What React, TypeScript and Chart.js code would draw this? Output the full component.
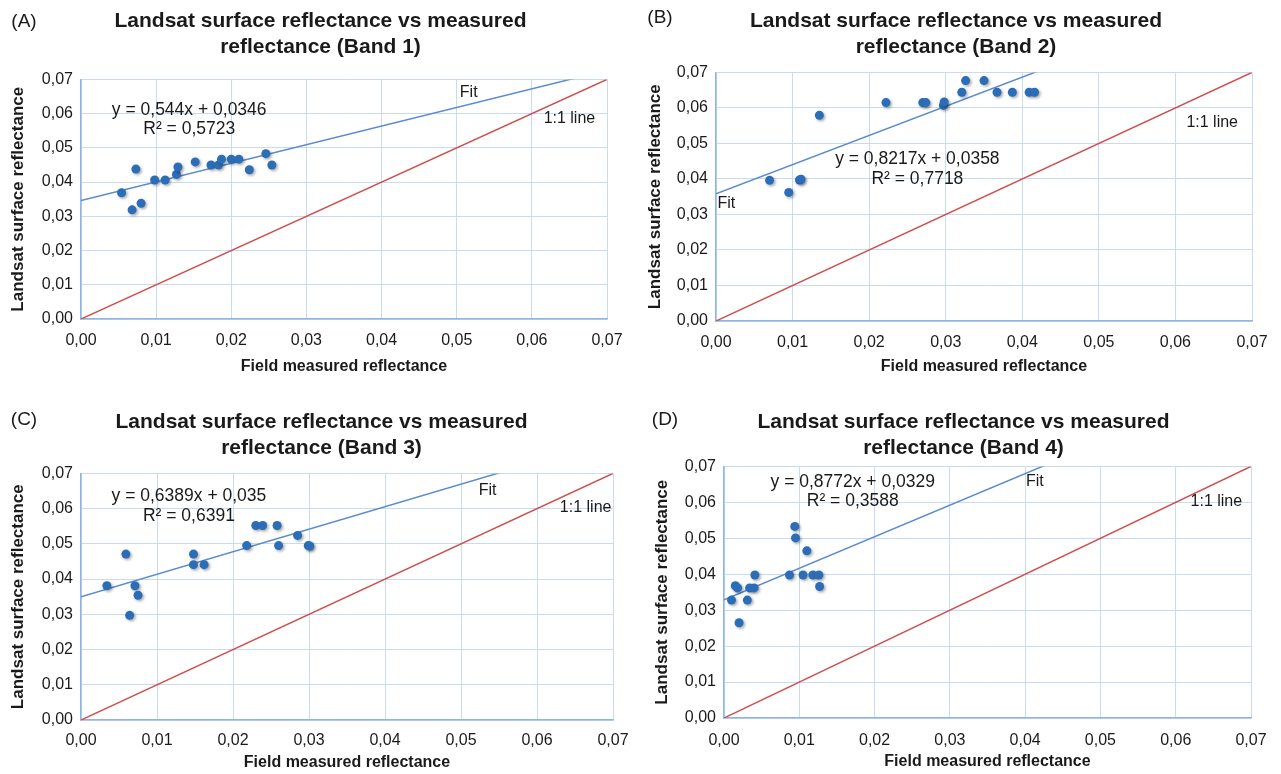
import React, { useEffect, useRef } from "react";
import { Chart, registerables } from "chart.js";

Chart.register(...registerables);

const FONT = '"Liberation Sans", Arial, Helvetica, sans-serif';

// ---------- data ----------
const axisTicks = [0, 0.01, 0.02, 0.03, 0.04, 0.05, 0.06, 0.07];
const axisTickLabels = ["0,00", "0,01", "0,02", "0,03", "0,04", "0,05", "0,06", "0,07"];

const band1X = [0.0054, 0.0068, 0.0073, 0.008, 0.0098, 0.0112, 0.0127, 0.0129, 0.0152, 0.0173, 0.0183, 0.0187, 0.02, 0.021, 0.0224, 0.0246, 0.0254];
const band1Y = [0.0369, 0.0319, 0.0438, 0.0338, 0.0406, 0.0406, 0.0422, 0.0444, 0.0459, 0.045, 0.045, 0.0467, 0.0467, 0.0467, 0.0436, 0.0483, 0.045];
const band1Slope = 0.544;
const band1Intercept = 0.0346;
const band1R2 = 0.5723;

const band2X = [0.007, 0.0095, 0.0109, 0.0111, 0.0135, 0.0222, 0.027, 0.0274, 0.0297, 0.0298, 0.0321, 0.0326, 0.035, 0.0367, 0.0387, 0.0409, 0.0416];
const band2Y = [0.0396, 0.0362, 0.0397, 0.0399, 0.0579, 0.0615, 0.0615, 0.0615, 0.0607, 0.0617, 0.0644, 0.0677, 0.0677, 0.0644, 0.0644, 0.0644, 0.0644];
const band2Slope = 0.8217;
const band2Intercept = 0.0358;
const band2R2 = 0.7718;

const band3X = [0.0034, 0.0059, 0.0064, 0.0071, 0.0075, 0.0148, 0.0148, 0.0162, 0.0218, 0.023, 0.0239, 0.0258, 0.026, 0.0285, 0.0299, 0.0301];
const band3Y = [0.0381, 0.0471, 0.0297, 0.0381, 0.0354, 0.0471, 0.0441, 0.0441, 0.0495, 0.0552, 0.0552, 0.0552, 0.0495, 0.0524, 0.0495, 0.0494];
const band3Slope = 0.6389;
const band3Intercept = 0.035;
const band3R2 = 0.6391;

const band4X = [0.001, 0.0015, 0.0018, 0.002, 0.0031, 0.0034, 0.004, 0.0041, 0.0087, 0.0094, 0.0095, 0.0105, 0.011, 0.0118, 0.0126, 0.0127];
const band4Y = [0.0328, 0.0368, 0.0362, 0.0265, 0.0328, 0.0362, 0.0362, 0.0398, 0.0398, 0.0533, 0.0501, 0.0398, 0.0465, 0.0398, 0.0398, 0.0366];
const band4Slope = 0.8772;
const band4Intercept = 0.0329;
const band4R2 = 0.3588;

const titleLine1 = "Landsat surface reflectance vs measured";
const xAxisTitle = "Field measured reflectance";
const yAxisTitle = "Landsat surface reflectance";
const fitLabel = "Fit";
const oneToOneLabel = "1:1 line";

// ---------- styles ----------
const TEXT = "#1a1a1a";
const POINT = "#2c6db7";
const FIT = "#5b8bd0";
const ONE = "#cf4f4c";
const GRID = "#c9dbf2";
const BORDER = "#90b5e4";

const comma = (v: number) => String(v).replace(".", ",");

type Layout = {
  left: number; top: number; width: number; height: number;
  yAxisWidth: number; xAxisHeight: number; padRight: number;
  titlePadTop: number; titlePadBottom: number; titleShift: number;
  yTitlePad: number; xTitlePad: number; xTickPad: number;
  label: string; labelPos: [number, number];
  eqPos: [number, number]; r2Pos: [number, number];
  fitPos: [number, number]; fitAlign: CanvasTextAlign; onePos: [number, number];
};

type Series = { band: number; xs: number[]; ys: number[]; slope: number; intercept: number; r2: number };

const panels: { series: Series; layout: Layout }[] = [
  {
    series: { band: 1, xs: band1X, ys: band1Y, slope: band1Slope, intercept: band1Intercept, r2: band1R2 },
    layout: {
      left: 0, top: 0, width: 640, height: 385,
      yAxisWidth: 81, xAxisHeight: 66, padRight: 33,
      titlePadTop: 9, titlePadBottom: 20, titleShift: 17,
      yTitlePad: 8, xTitlePad: 9, xTickPad: 12,
      label: "(A)", labelPos: [24, 22],
      eqPos: [0.0144, 0.061], r2Pos: [0.0144, 0.0555],
      fitPos: [0.0516, 0.0662], fitAlign: "center", onePos: [0.065, 0.0585],
    },
  },
  {
    series: { band: 2, xs: band2X, ys: band2Y, slope: band2Slope, intercept: band2Intercept, r2: band2R2 },
    layout: {
      left: 640, top: 0, width: 641, height: 385,
      yAxisWidth: 76, xAxisHeight: 64, padRight: 29,
      titlePadTop: 9, titlePadBottom: 13, titleShift: 10,
      yTitlePad: 5, xTitlePad: 9, xTickPad: 12,
      label: "(B)", labelPos: [20, 18],
      eqPos: [0.0263, 0.0457], r2Pos: [0.0263, 0.04],
      fitPos: [0.0002, 0.0331], fitAlign: "left", onePos: [0.0648, 0.0559],
    },
  },
  {
    series: { band: 3, xs: band3X, ys: band3Y, slope: band3Slope, intercept: band3Intercept, r2: band3R2 },
    layout: {
      left: 0, top: 390, width: 640, height: 384,
      yAxisWidth: 81, xAxisHeight: 54, padRight: 27,
      titlePadTop: 20, titlePadBottom: 13, titleShift: 15,
      yTitlePad: 8, xTitlePad: 1.5, xTickPad: 11,
      label: "(C)", labelPos: [24, 30],
      eqPos: [0.0142, 0.0634], r2Pos: [0.0142, 0.0578],
      fitPos: [0.0535, 0.0651], fitAlign: "center", onePos: [0.0664, 0.0603],
    },
  },
  {
    series: { band: 4, xs: band4X, ys: band4Y, slope: band4Slope, intercept: band4Intercept, r2: band4R2 },
    layout: {
      left: 640, top: 390, width: 641, height: 384,
      yAxisWidth: 84, xAxisHeight: 56, padRight: 30,
      titlePadTop: 20, titlePadBottom: 6, titleShift: 18,
      yTitlePad: 12.5, xTitlePad: 2.5, xTickPad: 13,
      label: "(D)", labelPos: [25, 30],
      eqPos: [0.0171, 0.0656], r2Pos: [0.0171, 0.0602],
      fitPos: [0.0413, 0.0658], fitAlign: "center", onePos: [0.0654, 0.0602],
    },
  },
];

// ---------- plugins ----------
const shadowPlugin = {
  id: "pointShadow",
  beforeDatasetDraw(chart: any, args: any) {
    if (args.index !== 0) return;
    const ctx = chart.ctx;
    ctx.save();
    ctx.shadowColor = "rgba(0,0,0,0.35)";
    ctx.shadowBlur = 3;
    ctx.shadowOffsetX = 1.5;
    ctx.shadowOffsetY = 1.5;
  },
  afterDatasetDraw(chart: any, args: any) {
    if (args.index !== 0) return;
    chart.ctx.restore();
  },
};

// shifts the title box horizontally so the title centres where the original does
const titleShiftPlugin = {
  id: "titleShift",
  afterLayout(chart: any, _args: any, opts: any) {
    const t = chart.titleBlock;
    if (t && opts && opts.dx) {
      t.left += opts.dx;
      t.right += opts.dx;
    }
  },
};

const annotPlugin = {
  id: "annot",
  afterDatasetsDraw(chart: any, _args: any, opts: any) {
    const { ctx, scales } = chart;
    const x = scales.x;
    const y = scales.y;
    ctx.save();
    ctx.fillStyle = TEXT;
    ctx.textBaseline = "middle";
    for (const it of opts.items || []) {
      ctx.font = `${it.weight || "normal"} ${it.size}px ${FONT}`;
      ctx.textAlign = it.align || "center";
      const px = it.data ? x.getPixelForValue(it.pos[0]) : it.pos[0];
      const py = it.data ? y.getPixelForValue(it.pos[1]) : it.pos[1];
      ctx.fillText(it.text, px, py);
    }
    ctx.restore();
  },
};

function buildConfig(series: Series, L: Layout): any {
  const xMin = axisTicks[0];
  const xMax = axisTicks[axisTicks.length - 1];
  const points = series.xs.map((v, i) => ({ x: v, y: series.ys[i] }));
  const fitData = [
    { x: xMin, y: series.slope * xMin + series.intercept },
    { x: xMax, y: series.slope * xMax + series.intercept },
  ];
  const oneData = [
    { x: xMin, y: xMin },
    { x: xMax, y: xMax },
  ];
  const tickFont = { family: FONT, size: 16 };
  const fixTicks = (s: any) => {
    s.ticks = axisTicks.map((v) => ({ value: v }));
  };
  const items = [
    { text: L.label, pos: L.labelPos, size: 19, align: "center", data: false },
    { text: `y = ${comma(series.slope)}x + ${comma(series.intercept)}`, pos: L.eqPos, size: 17.5, data: true },
    { text: `R² = ${comma(series.r2)}`, pos: L.r2Pos, size: 17.5, data: true },
    { text: fitLabel, pos: L.fitPos, size: 16, align: L.fitAlign, data: true },
    { text: oneToOneLabel, pos: L.onePos, size: 16, data: true },
  ];
  return {
    type: "scatter",
    data: {
      datasets: [
        {
          data: points,
          backgroundColor: POINT,
          borderWidth: 0,
          pointRadius: 4.5,
          pointHoverRadius: 4.5,
        },
        {
          data: fitData,
          showLine: true,
          borderColor: FIT,
          borderWidth: 1.5,
          pointRadius: 0,
          fill: false,
        },
        {
          data: oneData,
          showLine: true,
          borderColor: ONE,
          borderWidth: 1.5,
          pointRadius: 0,
          fill: false,
        },
      ],
    },
    options: {
      responsive: false,
      animation: false,
      events: [],
      layout: { padding: { left: 0, top: 0, right: L.padRight, bottom: 0 } },
      plugins: {
        legend: { display: false },
        tooltip: { enabled: false },
        title: {
          display: true,
          text: [titleLine1, `reflectance (Band ${series.band})`],
          color: TEXT,
          font: { family: FONT, size: 21, weight: "bold", lineHeight: 1.2 },
          padding: { top: L.titlePadTop, bottom: L.titlePadBottom },
        },
        titleShift: { dx: L.titleShift },
        annot: { items },
      },
      scales: {
        x: {
          type: "linear",
          min: xMin,
          max: xMax,
          afterBuildTicks: fixTicks,
          afterFit: (s: any) => {
            s.height = L.xAxisHeight;
          },
          ticks: {
            callback: (_v: any, i: number) => axisTickLabels[i],
            font: tickFont,
            color: TEXT,
            padding: L.xTickPad,
            maxRotation: 0,
            autoSkip: false,
          },
          grid: { color: GRID, lineWidth: 1, drawTicks: false },
          border: { color: BORDER, width: 1.5 },
          title: {
            display: true,
            text: xAxisTitle,
            color: TEXT,
            font: { family: FONT, size: 16, weight: "bold", lineHeight: 1.2 },
            padding: { top: 0, bottom: L.xTitlePad },
          },
        },
        y: {
          type: "linear",
          min: xMin,
          max: xMax,
          afterBuildTicks: fixTicks,
          afterFit: (s: any) => {
            s.width = L.yAxisWidth;
          },
          ticks: {
            callback: (_v: any, i: number) => axisTickLabels[i],
            font: tickFont,
            color: TEXT,
            padding: 8,
            autoSkip: false,
          },
          grid: { color: GRID, lineWidth: 1, drawTicks: false },
          border: { color: BORDER, width: 1.5 },
          title: {
            display: true,
            text: yAxisTitle,
            color: TEXT,
            font: { family: FONT, size: 17, weight: "bold", lineHeight: 1.2 },
            padding: { top: L.yTitlePad, bottom: 0 },
          },
        },
      },
    },
    plugins: [shadowPlugin, titleShiftPlugin, annotPlugin],
  };
}

function Panel({ series, layout }: { series: Series; layout: Layout }) {
  const ref = useRef<HTMLCanvasElement | null>(null);
  useEffect(() => {
    if (!ref.current) return;
    const chart = new Chart(ref.current, buildConfig(series, layout));
    return () => chart.destroy();
  }, [series, layout]);
  return (
    <div
      style={{
        position: "absolute",
        left: layout.left,
        top: layout.top,
        width: layout.width,
        height: layout.height,
      }}
    >
      <canvas
        ref={ref}
        width={layout.width}
        height={layout.height}
        style={{ width: layout.width, height: layout.height, display: "block" }}
      />
    </div>
  );
}

export default function App() {
  return (
    <div
      style={{
        position: "absolute",
        left: 0,
        top: 0,
        width: 1281,
        height: 774,
        background: "#ffffff",
        overflow: "hidden",
      }}
    >
      {panels.map((p, i) => (
        <Panel key={i} series={p.series} layout={p.layout} />
      ))}
    </div>
  );
}
